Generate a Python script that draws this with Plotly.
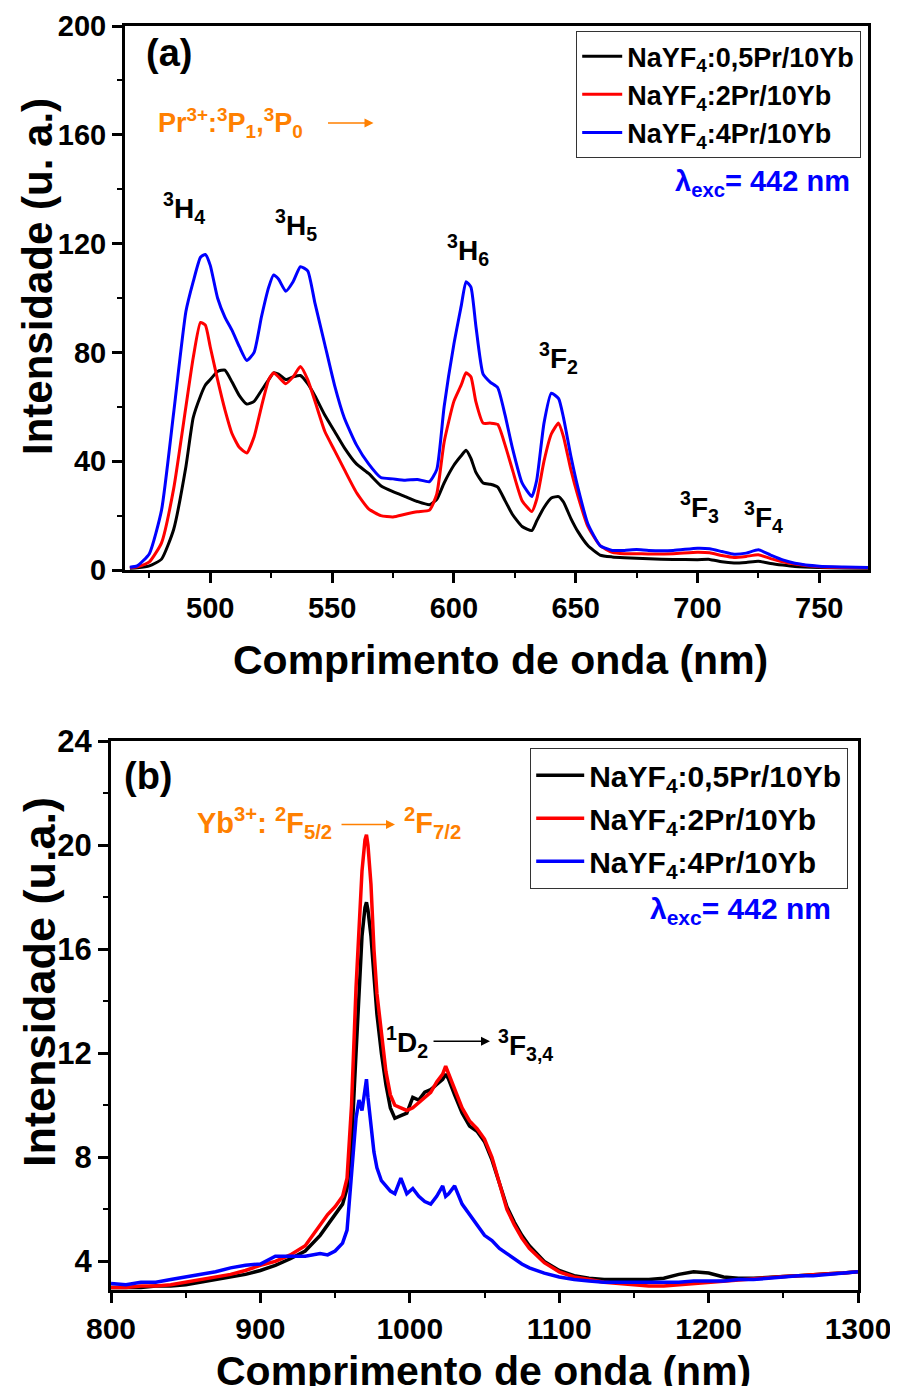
import plotly.graph_objects as go

# ---------------- Panel (a): visible emission ----------------
wl_a = [467, 470, 475, 480, 485, 490, 493, 496, 498, 500, 503, 506, 509, 512, 515, 518,
        521, 524, 526, 528, 531, 534, 537, 540, 543, 547, 551, 555, 560, 565, 570, 575,
        580, 585, 590, 593, 596, 600, 603, 605, 607, 609, 612, 615, 618, 621, 624, 628,
        632, 634, 637, 640, 643, 645, 648, 651, 655, 660, 665, 670, 675, 680, 690, 700,
        705, 710, 715, 720, 725, 730, 735, 740, 750, 760, 770]

pr05_a = [0.6, 0.8, 1.5, 4, 15, 38, 56, 64, 68, 70, 73, 73.5, 69, 64, 61, 62,
          66, 70, 72.5, 72, 70, 71, 71.5, 68.5, 64, 57, 51, 45, 39, 35.5, 31, 28.8,
          27, 25.2, 24, 26, 32, 38.5, 42, 44, 41, 36, 32, 31.5, 30.5, 25.5, 20.5, 16,
          14.5, 18, 23, 26.5, 27, 25, 19, 14, 9, 5.5, 4.8, 4.5, 4.3, 4.1, 3.9, 3.8,
          3.9, 3.0, 2.6, 2.8, 3.2, 2.4, 1.8, 1.3, 0.9, 0.7, 0.6]

pr2_a = [0.8, 1.2, 3, 10, 30, 60, 78, 91, 90, 82, 70, 59, 50, 45, 43, 49,
         60, 70, 72.5, 71, 68.5, 71, 74.8, 70, 62, 51, 44, 37, 28.5, 22.5, 20, 19.5,
         20.5, 21.4, 22, 28, 47, 62, 68, 72.5, 71, 62, 54, 54, 53.5, 46, 37, 25.5,
         21.5, 26, 40, 50, 54, 49, 37, 27, 16, 9, 6.5, 6, 6, 5.9, 6, 6.5,
         6.3, 5.3, 4.6, 5.0, 5.6, 4.2, 3.0, 2.2, 1.2, 0.9, 0.8]

pr4_a = [1.0, 1.5, 6, 22, 58, 95, 106, 115, 116, 112, 100, 93, 88, 82, 77, 80,
         93, 104, 108.5, 107, 102.5, 106, 111.5, 110, 98, 83, 68, 56, 46, 39, 34, 33.5,
         33, 33.3, 32.5, 37, 60, 83, 97, 106, 104, 90, 72, 69, 67, 57, 45, 32,
         27, 33, 54, 65, 63, 56, 42, 30, 17, 9, 7.2, 7.2, 7.5, 7.2, 7.2, 8,
         7.8, 6.8, 5.8, 6.2, 7.4, 5.5, 3.7, 2.5, 1.4, 1.1, 0.9]

# ---------------- Panel (b): NIR emission ----------------
wl_b = [800, 810, 820, 830, 840, 850, 860, 870, 880, 890, 900, 910, 920, 930, 940, 945,
        950, 955, 958, 961, 964, 966, 968, 970, 971, 972, 974, 976, 978, 981, 984, 987,
        990, 994, 998, 1002, 1006, 1010, 1014, 1018, 1022, 1024, 1026, 1030, 1035, 1040, 1045, 1050,
        1055, 1060, 1065, 1070, 1075, 1080, 1090, 1100, 1110, 1120, 1130, 1140, 1150, 1160,
        1170, 1180, 1190, 1200, 1210, 1220, 1230, 1240, 1250, 1260, 1270, 1280, 1290, 1300]

pr05_b = [3.0, 3.0, 3.0, 3.05, 3.05, 3.1, 3.2, 3.3, 3.4, 3.5, 3.65, 3.85, 4.1, 4.4, 5.0, 5.4,
          5.8, 6.2, 6.8, 8.5, 12, 14.5, 16.5, 17.6, 17.8, 17.5, 16.5, 15, 13.5, 12, 10.8, 9.9,
          9.5, 9.6, 9.7, 10.3, 10.2, 10.5, 10.6, 10.8, 11.0, 11.2, 11.0, 10.4, 9.7, 9.2, 9.0, 8.6,
          7.9, 7.0, 6.1, 5.5, 5.0, 4.6, 4.0, 3.65, 3.45, 3.35, 3.3, 3.3, 3.3, 3.3,
          3.35, 3.5, 3.6, 3.55, 3.4, 3.35, 3.35, 3.4, 3.42, 3.45, 3.5, 3.52, 3.55, 3.6]

pr2_b = [3.0, 3.0, 3.05, 3.05, 3.1, 3.2, 3.3, 3.4, 3.5, 3.65, 3.85, 4.0, 4.25, 4.6, 5.4, 5.8,
         6.1, 6.5, 7.2, 10, 14.5, 17, 19, 20.2, 20.4, 20, 18.5, 16, 14.3, 12.8, 11.3, 10.4,
         10.0, 9.9, 9.8, 9.9, 10.1, 10.3, 10.5, 10.9, 11.2, 11.5, 11.2, 10.6, 9.9, 9.4, 9.1, 8.7,
         8.0, 7.0, 6.0, 5.4, 4.9, 4.5, 3.95, 3.6, 3.4, 3.3, 3.2, 3.15, 3.1, 3.05,
         3.05, 3.1, 3.15, 3.2, 3.25, 3.3, 3.35, 3.4, 3.42, 3.45, 3.5, 3.52, 3.55, 3.6]

pr4_b = [3.15, 3.1, 3.2, 3.2, 3.3, 3.4, 3.5, 3.6, 3.75, 3.85, 3.9, 4.2, 4.2, 4.2, 4.3, 4.25,
         4.4, 4.7, 5.2, 7.5, 9.5, 10.2, 9.8, 10.6, 11.0, 10.3, 9.3, 8.2, 7.6, 7.1, 6.9, 6.7,
         6.6, 7.2, 6.6, 6.8, 6.5, 6.3, 6.2, 6.5, 6.9, 6.5, 6.6, 6.9, 6.2, 5.8, 5.4, 5.0,
         4.8, 4.5, 4.3, 4.1, 3.9, 3.75, 3.55, 3.4, 3.3, 3.25, 3.2, 3.2, 3.2, 3.2,
         3.2, 3.2, 3.25, 3.25, 3.25, 3.3, 3.3, 3.35, 3.4, 3.45, 3.45, 3.5, 3.55, 3.6]

names = ["NaYF<sub>4</sub>:0,5Pr/10Yb", "NaYF<sub>4</sub>:2Pr/10Yb", "NaYF<sub>4</sub>:4Pr/10Yb"]
colors = ["#000000", "#FF0000", "#0000FF"]

FONT = "Liberation Sans, Arial, sans-serif"
ORANGE = "#FF8000"

fig = go.Figure()
for ys, nm, c in zip([pr05_a, pr2_a, pr4_a], names, colors):
    fig.add_trace(go.Scatter(x=wl_a, y=ys, mode="lines", name=nm, legend="legend",
                             legendgroup=nm + "a",
                             line=dict(color=c, width=3, shape="spline", smoothing=0.5),
                             xaxis="x", yaxis="y"))
for ys, nm, c in zip([pr05_b, pr2_b, pr4_b], names, colors):
    fig.add_trace(go.Scatter(x=wl_b, y=ys, mode="lines", name=nm, legend="legend2",
                             legendgroup=nm + "b",
                             line=dict(color=c, width=3.5),
                             xaxis="x2", yaxis="y2"))

# the page body adds an 8 px offset, so the figure is 8 px smaller and shifted
OFF = 8
W, H = 898 - OFF, 1386 - OFF
def px(x): return (x - OFF) / W
def py(y): return 1 - (y - OFF) / H

axis_common = dict(showline=True, linewidth=3, linecolor="black", mirror=True,
                   ticks="outside", ticklen=10, tickwidth=2.5, tickcolor="black",
                   showgrid=False, zeroline=False, automargin=False)

fig.update_layout(
    width=W, height=H,
    margin=dict(l=0, r=0, t=0, b=0),
    paper_bgcolor="white", plot_bgcolor="white",
    font=dict(family=FONT, color="black"),
    xaxis=dict(domain=[px(125), px(868)], range=[465, 770], anchor="y",
               dtick=50, tick0=0,
               tickfont=dict(size=29, weight="bold", family=FONT),
               minor=dict(dtick=25, ticklen=5, tickwidth=2, ticks="outside", tickcolor="black"),
               **axis_common),
    yaxis=dict(domain=[py(570), py(26)], range=[0, 200], anchor="x",
               dtick=40, tick0=0,
               tickfont=dict(size=29, weight="bold", family=FONT),
               minor=dict(dtick=20, ticklen=5, tickwidth=2, ticks="outside", tickcolor="black"),
               **axis_common),
    xaxis2=dict(domain=[px(111), px(858)], range=[800, 1300], anchor="y2",
                dtick=100, tick0=0,
                tickfont=dict(size=30, weight="bold", family=FONT),
                minor=dict(dtick=50, ticklen=5, tickwidth=2, ticks="outside", tickcolor="black"),
                **axis_common),
    yaxis2=dict(domain=[py(1290), py(741)], range=[2.9, 24], anchor="x2",
                dtick=4, tick0=0,
                tickfont=dict(size=31, weight="bold", family=FONT),
                minor=dict(dtick=2, ticklen=5, tickwidth=2, ticks="outside", tickcolor="black"),
                **axis_common),
    legend=dict(x=px(861), y=py(31), xanchor="right", yanchor="top",
                bgcolor="white", bordercolor="#333333", borderwidth=1.2,
                font=dict(size=27, weight="bold", family=FONT), tracegroupgap=0,
                itemwidth=40),
    legend2=dict(x=px(848), y=py(748), xanchor="right", yanchor="top",
                 bgcolor="white", bordercolor="#333333", borderwidth=1.2,
                 font=dict(size=30, weight="bold", family=FONT), tracegroupgap=1,
                 itemwidth=48),
    showlegend=True,
)

ann = []
def text(x, y, t, size, color="black", xref="x", yref="y", xanchor="center", yanchor="middle", angle=0):
    ann.append(dict(x=x, y=y, xref=xref, yref=yref, text=t, showarrow=False,
                    xanchor=xanchor, yanchor=yanchor, textangle=angle,
                    font=dict(size=size, color=color, weight="bold", family=FONT)))

def arrow(x, y, ax, color, xref, yref):
    ann.append(dict(x=x, y=y, xref=xref, yref=yref, ax=ax, ay=0, text="",
                    showarrow=True, arrowhead=2, arrowsize=1.2, arrowwidth=1.5,
                    arrowcolor=color))

# axis titles
text(px(500), py(660), "Comprimento de onda (nm)", 41, xref="paper", yref="paper")
text(px(37), py(277), "Intensidade (u. a.)", 42, xref="paper", yref="paper", angle=-90)
text(px(483), py(1371), "Comprimento de onda (nm)", 41, xref="paper", yref="paper")
text(px(39), py(982), "Intensidade (u.a.)", 45, xref="paper", yref="paper", angle=-90)

# panel (a) labels
text(483.2, 190.1, "(a)", 38)
text(477.9, 164.3, "Pr<sup>3+</sup>:<sup>3</sup>P<sub>1</sub>,<sup>3</sup>P<sub>0</sub>", 27,
     color=ORANGE, xanchor="left")
arrow(567, 164.3, -47, ORANGE, "x", "y")
text(489.4, 133.0, "<sup>3</sup>H<sub>4</sub>", 28)
text(535.2, 127.0, "<sup>3</sup>H<sub>5</sub>", 28)
text(606.0, 117.5, "<sup>3</sup>H<sub>6</sub>", 28)
text(642.8, 78.0, "<sup>3</sup>F<sub>2</sub>", 28)
text(700.9, 23.0, "<sup>3</sup>F<sub>3</sub>", 28)
text(727.1, 19.5, "<sup>3</sup>F<sub>4</sub>", 28)
text(763.5, 142.3, "λ<sub>exc</sub>= 442 nm", 29, color="#0000FF", xanchor="right")

# panel (b) labels
text(824.8, 22.67, "(b)", 38, xref="x2", yref="y2")
text(949.0, 20.83, "Yb<sup>3+</sup>: <sup>2</sup>F<sub>5/2</sub>", 29, color=ORANGE,
     xref="x2", yref="y2", xanchor="right")
arrow(990.1, 20.79, -55, ORANGE, "x2", "y2")
text(995.0, 20.83, "<sup>2</sup>F<sub>7/2</sub>", 29, color=ORANGE,
     xref="x2", yref="y2", xanchor="left")
text(1013.5, 12.42, "<sup>1</sup>D<sub>2</sub>", 28, xref="x2", yref="y2", xanchor="right")
arrow(1053.7, 12.46, -58, "black", "x2", "y2")
text(1057.7, 12.3, "<sup>3</sup>F<sub>3,4</sub>", 28, xref="x2", yref="y2", xanchor="left")
text(1283.3, 17.49, "λ<sub>exc</sub>= 442 nm", 30, color="#0000FF",
     xref="x2", yref="y2", xanchor="right")

fig.update_layout(annotations=ann)
fig.write_html("out.html")
